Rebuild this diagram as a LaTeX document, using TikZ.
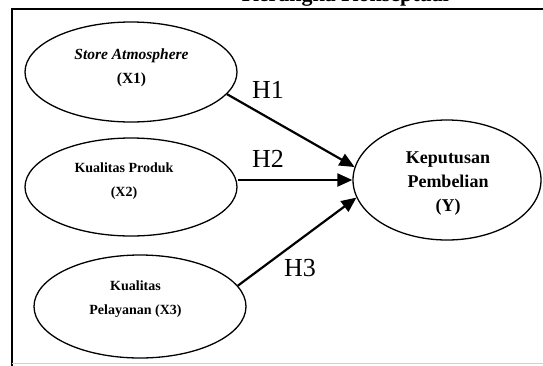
\documentclass[tikz,border=0pt]{standalone}
\usepackage{fontspec}
\setmainfont{Liberation Serif}
\usetikzlibrary{shapes.geometric,arrows.meta}

\tikzset{
  var/.style={ellipse, draw, line width=1.3pt, inner sep=0pt},
  vartext/.style={align=center, font=\fontsize{14}{24}\selectfont\bfseries},
  hyp/.style={-{Triangle[length=15pt,width=13pt]}, line width=2.2pt},
  hlabel/.style={font=\fontsize{26}{26}\selectfont}
}

\begin{document}
\begin{tikzpicture}[x=1pt,y=-1pt]
  \useasboundingbox (0,0) rectangle (543,365);
  % title, cut off at the top
  \node[anchor=base west, inner sep=0pt, font=\fontsize{22}{22}\selectfont\bfseries] (judul) at (241.6,1.5) {Kerangka Konseptual};
  \draw[line width=1.3pt] (12,366) -- (12,9) -- (545,9);
  \draw[gray!35, line width=0.8pt] (12,363.5) -- (543,363.5);

  \node[var, minimum width=212pt, minimum height=100pt] (sa) at (131,72) {};
  \node[var, minimum width=212pt, minimum height=98pt] (kprod) at (131,187) {};
  \node[var, minimum width=212pt, minimum height=103pt] (kpel) at (140,306.5) {};
  \node[var, minimum width=188pt, minimum height=120pt] (kp) at (447,180) {};

  \node[vartext, font=\fontsize{15.5}{24}\selectfont\bfseries] (sat) at ([shift={(0.5,-4.5)}]sa.center) {\textit{Store Atmosphere}\\(X1)};
  \node[vartext] (kprodt) at ([shift={(-7,-6)}]kprod.center) {Kualitas Produk\\(X2)};
  \node[vartext] (kpelt) at ([shift={(-4.5,-7.5)}]kpel.center) {Kualitas\\Pelayanan (X3)};
  \node[vartext, font=\fontsize{18}{24}\selectfont\bfseries] (kpt) at ([shift={(1,3.7)}]kp.center) {Keputusan\\Pembelian\\(Y)};

  \draw[hyp] (sa.-13) -- (kp.172);
  \draw[hyp] (kprod.east |- kp.west) -- (kp.west);
  \draw[hyp] (kpel.12.5) -- (kp.191);

  \node[hlabel] (h1) at (268,90) {H1};
  \node[hlabel] (h2) at (268,159) {H2};
  \node[hlabel] (h3) at (300,268) {H3};
\end{tikzpicture}
\end{document}
